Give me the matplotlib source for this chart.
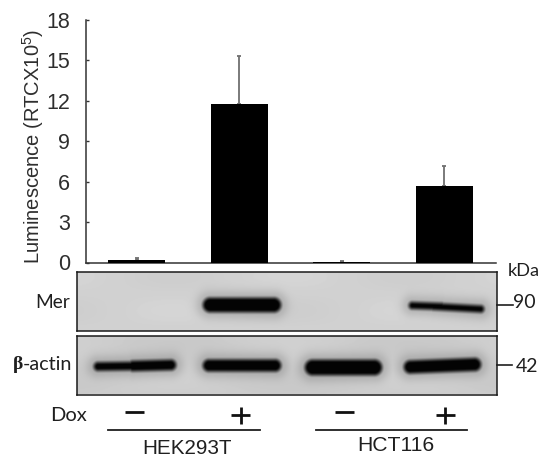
import numpy as np
import matplotlib
matplotlib.use("Agg")
import matplotlib.pyplot as plt

W, H = 550, 466
SANS = "Liberation Sans"
HUM = "Lato"

# ---- chart data ----
conditions = ["HEK293T -", "HEK293T +", "HCT116 -", "HCT116 +"]
luminescence = [0.2, 11.76, 0.03, 5.7]
errors = [0.15, 3.55, 0.05, 1.45]
y_ticks = [0, 3, 6, 9, 12, 15, 18]

# ---- blot band appearance: left, right, y-left, y-right, thickness (pixels) ----
mer_bands = [(409, 445, 305.5, 306.5, 7), (430, 484, 306.5, 309, 7), (203, 281, 305, 305, 14.5)]
actin_bands = [(94, 140, 367, 366.5, 8.5), (128, 176, 366.5, 365.5, 10.5), (203, 281, 366, 366, 12),
               (305, 382, 368, 368, 15.5), (404, 481, 367.5, 365, 13)]

plt.rcParams["mathtext.fontset"] = "custom"
plt.rcParams["mathtext.rm"] = SANS
plt.rcParams["mathtext.default"] = "regular"

fig = plt.figure(figsize=(W / 100, H / 100), dpi=100, facecolor="white")


def rect(x0, y0, x1, y1):
    return [x0 / W, 1 - y1 / H, (x1 - x0) / W, (y1 - y0) / H]


# ---- bar chart ----
ax = fig.add_axes(rect(85.5, 20, 495.7, 262.5))
ax.bar(range(4), luminescence, width=0.555, color="black", zorder=3)
ax.errorbar(range(4), luminescence, yerr=[[0] * 4, errors], fmt="none", ecolor="#707070",
            elinewidth=1.3, capsize=1.5, capthick=1.3, zorder=2)
ax.set_xlim(-0.5, 3.5)
ax.set_ylim(0, 18)
ax.set_xticks([])
ax.set_yticks(y_ticks)
ax.tick_params(axis="y", direction="in", length=2, width=1, color="#333333", pad=11,
               labelsize=15.5, labelcolor="#2e2e2e")
for lab in ax.get_yticklabels():
    lab.set_fontfamily(SANS)
for s in ["top", "right"]:
    ax.spines[s].set_visible(False)
for s in ["left", "bottom"]:
    ax.spines[s].set_linewidth(1.1)
    ax.spines[s].set_color("#333333")

# ---- overlay in pixel coordinates for annotations ----
ov = fig.add_axes([0, 0, 1, 1], zorder=5)
ov.set_xlim(0, W)
ov.set_ylim(H, 0)
ov.axis("off")
ov.patch.set_alpha(0)
ov.text(33, 146, "Luminescence (RTCX10$^5$)", rotation=90, ha="center", va="center",
        fontsize=14.5, family=SANS, color="#2e2e2e")


# ---- blots ----
def blot(x0, y0, x1, y1, bands, base):
    a = fig.add_axes(rect(x0, y0, x1, y1))
    xs = np.arange(x0, x1) + 0.5
    ys = np.arange(y0, y1) + 0.5
    X, Y = np.meshgrid(xs, ys)
    img = base + 0.015 * np.sin(X / 37.0) * np.cos(Y / 11.0)
    dist = np.full(X.shape, 1e6)
    for (l, r, yl, yr, t) in bands:
        ax0, ax1 = l + t / 2, r - t / 2
        dx, dy = ax1 - ax0, yr - yl
        s = np.clip(((X - ax0) * dx + (Y - yl) * dy) / (dx * dx + dy * dy), 0, 1)
        d = np.hypot(X - (ax0 + s * dx), Y - (yl + s * dy)) - t / 2
        dist = np.minimum(dist, d)
    core = np.clip((3.0 - dist) / 6.0, 0, 1)
    core = core * core * (3 - 2 * core)
    halo = np.exp(-(dist.clip(0) / 8.0) ** 2)
    img = img * (1 - 0.98 * core) * (1 - 0.14 * halo)
    a.imshow(img, cmap="gray", vmin=0, vmax=1, aspect="auto", interpolation="bilinear",
             extent=(x0, x1, y1, y0))
    a.set_xticks([])
    a.set_yticks([])
    for s in a.spines.values():
        s.set_linewidth(1.1)
        s.set_color("#1a1a1a")


blot(77, 272, 496.5, 331, mer_bands, 0.82)
blot(77, 335.5, 496.5, 394.5, actin_bands, 0.80)

# ---- annotations ----
TXT = "#1f1f1f"
ov.text(53, 303, "Mer", ha="center", va="center", fontsize=13.8, family=HUM, color=TXT)
ov.text(23, 364.5, "β", ha="right", va="center", fontsize=14, family="Liberation Serif",
        fontweight="bold", color=TXT)
ov.text(23, 364.5, "-actin", ha="left", va="center", fontsize=14.2, family=HUM, color=TXT)
ov.text(69, 415.5, "Dox", ha="center", va="center", fontsize=14.5, family=HUM, color=TXT)
ov.text(524, 271, "kDa", ha="center", va="center", fontsize=13.1, family=HUM, color=TXT)
ov.text(524.5, 303, "90", ha="center", va="center", fontsize=14, family=HUM, color=TXT)
ov.text(527, 366, "42", ha="center", va="center", fontsize=14, family=HUM, color=TXT)
ov.plot([497, 513], [304.5, 304.5], color=TXT, lw=1.2)
ov.plot([497, 511.5], [364.5, 364.5], color=TXT, lw=1.2)

# dox signs and cell-line brackets
for x, sign in [(134, "minus"), (240.5, "plus"), (344, "minus"), (445, "plus")]:
    yy = 412 if sign == "minus" else 415
    ov.plot([x - 9.5, x + 9.5], [yy, yy], color="#111111", lw=2.0, solid_capstyle="butt")
    if sign == "plus":
        ov.plot([x, x], [406.5, 424], color="#111111", lw=2.0, solid_capstyle="butt")
ov.plot([108, 260], [430, 430], color=TXT, lw=1.3)
ov.plot([316, 467], [430, 430], color=TXT, lw=1.3)
ov.text(187, 448, "HEK293T", ha="center", va="center", fontsize=14.9, family=SANS, color=TXT)
ov.text(396, 445.5, "HCT116", ha="center", va="center", fontsize=15.2, family=SANS, color=TXT)

fig.savefig("out.png", dpi=100, facecolor="white")
